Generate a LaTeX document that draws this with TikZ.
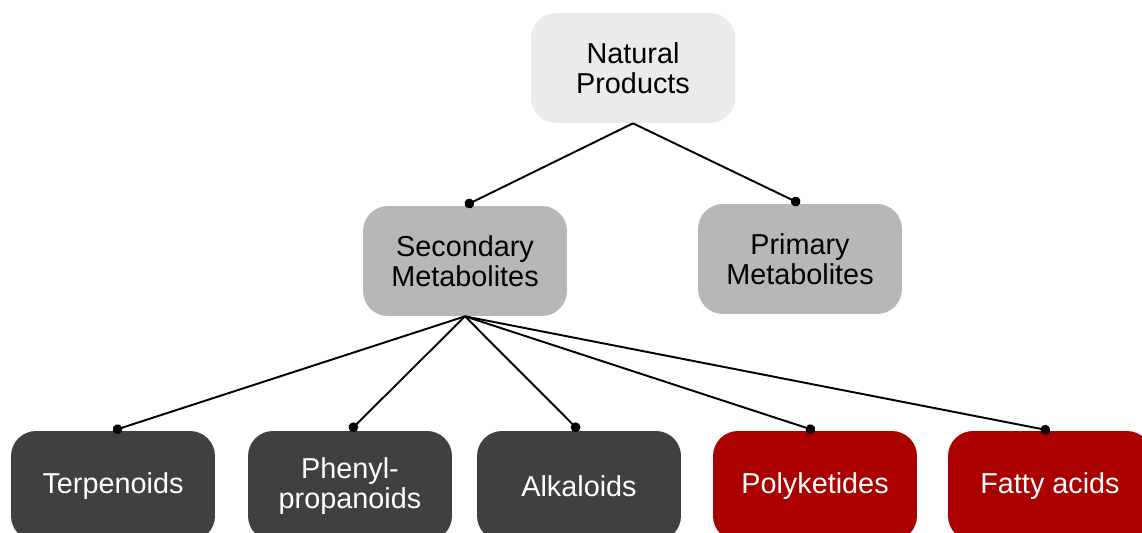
\documentclass[tikz,border=0pt]{standalone}
\usepackage{fontspec}
\setmainfont{Liberation Sans}
\usetikzlibrary{arrows.meta}
\definecolor{toplight}{HTML}{EBEBEB}
\definecolor{midgrey}{HTML}{B7B7B7}
\definecolor{darkgrey}{HTML}{404040}
\definecolor{darkred}{HTML}{AA0000}
\tikzset{
  box/.style={rectangle, rounded corners=0.5cm, minimum width=4.08cm, minimum height=2.2cm,
    align=center, font=\fontsize{16.4}{17.2}\selectfont},
  link/.style={line width=1.1pt, -{Circle[length=5.5pt]}}
}
\begin{document}
\begin{tikzpicture}[x=0.02cm, y=-0.02cm]
        \useasboundingbox (0,0) rectangle (1142,533);
        \node [box, fill=toplight] (np) at (633,68) {Natural\\Products};
        \node [box, fill=midgrey] (sm) at (465,261) {Secondary\\Metabolites};
        \node [box, fill=midgrey] (pm) at (800,259) {Primary\\Metabolites};
        \node [box, fill=darkgrey, text=white] (terp) at (113,486) {Terpenoids};
        \node [box, fill=darkgrey, text=white] (phen) at (350,486) {Phenyl-\\propanoids};
        \node [box, fill=darkgrey, text=white] (alk) at (579,486) {Alkaloids};
        \node [box, fill=darkred, text=white] (poly) at (815,486) {Polyketides};
        \node [box, fill=darkred, text=white] (fatty) at (1050,486) {Fatty acids};
        \draw [link] (np.south) -- (sm.north);
        \draw [link] (np.south) -- (pm.north);
        \draw [link] (sm.south) -- (terp.north);
        \draw [link] (sm.south) -- (phen.north);
        \draw [link] (sm.south) -- (alk.north);
        \draw [link] (sm.south) -- (poly.north);
        \draw [link] (sm.south) -- (fatty.north);
    \end{tikzpicture}
\end{document}
